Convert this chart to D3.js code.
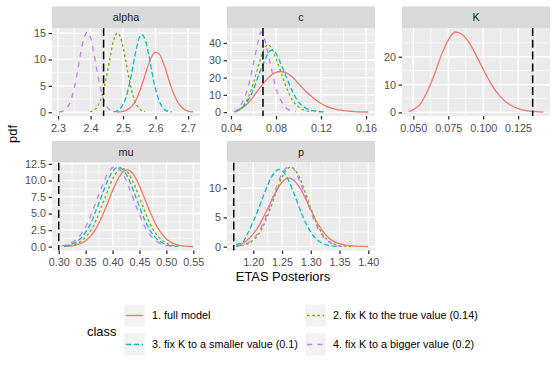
<!DOCTYPE html>
<html><head><meta charset="utf-8">
<script src="https://cdn.jsdelivr.net/npm/d3@7"></script>
<style>
body{margin:0;background:#fff}
svg{display:block}
text{font-family:"Liberation Sans",Arial,Helvetica,sans-serif}
</style>
</head><body>
<svg id="chart" width="555" height="370"></svg>
<script>
// ---------- data ----------
const panelNames = ["alpha", "c", "K", "mu", "p"];
const classNames = ["1. full model", "2. fix K to the true value (0.14)", "3. fix K to a smaller value (0.1)", "4. fix K to a bigger value (0.2)"];
const classColors = ["#F8766D", "#7CAE00", "#00BFC4", "#C77CFF"];
const classDash = [null, "2.6,2.6", "5.2,2.6", "5.2,5.2"];
const trueValues = [2.44, 0.0685, 0.1354, 0.30, 1.166];

const alphaXTicks = [2.3, 2.4, 2.5, 2.6, 2.7];
const alphaXLabels = ["2.3", "2.4", "2.5", "2.6", "2.7"];
const alphaYTicks = [0, 5, 10, 15];
const alphaYLabels = ["0", "5", "10", "15"];
const cXTicks = [0.04, 0.08, 0.12, 0.16];
const cXLabels = ["0.04", "0.08", "0.12", "0.16"];
const cYTicks = [0, 10, 20, 30, 40];
const cYLabels = ["0", "10", "20", "30", "40"];
const kXTicks = [0.05, 0.075, 0.1, 0.125];
const kXLabels = ["0.050", "0.075", "0.100", "0.125"];
const kYTicks = [0, 10, 20];
const kYLabels = ["0", "10", "20"];
const muXTicks = [0.30, 0.35, 0.40, 0.45, 0.50, 0.55];
const muXLabels = ["0.30", "0.35", "0.40", "0.45", "0.50", "0.55"];
const muYTicks = [0, 2.5, 5, 7.5, 10, 12.5];
const muYLabels = ["0.0", "2.5", "5.0", "7.5", "10.0", "12.5"];
const pXTicks = [1.20, 1.25, 1.30, 1.35, 1.40];
const pXLabels = ["1.20", "1.25", "1.30", "1.35", "1.40"];
const pYTicks = [0, 5, 10];
const pYLabels = ["0", "5", "10"];

// alpha posteriors [value, density]
const alphaFull = [[2.48,0.05],[2.49,0.07],[2.50,0.16],[2.51,0.36],[2.52,0.74],[2.53,1.37],[2.54,2.37],[2.55,3.8],[2.56,5.55],[2.57,7.5],[2.58,9.35],[2.59,10.75],[2.60,11.4],[2.61,11.1],[2.62,10.0],[2.63,8.3],[2.64,6.3],[2.65,4.4],[2.66,2.9],[2.67,1.73],[2.68,0.95],[2.69,0.49],[2.70,0.23],[2.71,0.1],[2.716,0.07]];
const alphaTrue = [[2.398,0.1],[2.41,0.39],[2.42,0.99],[2.43,2.18],[2.44,4.2],[2.45,7.1],[2.46,10.4],[2.47,13.4],[2.483,15.0],[2.49,14.5],[2.50,12.3],[2.51,9.1],[2.52,5.9],[2.53,3.3],[2.54,1.6],[2.55,0.69],[2.56,0.26],[2.568,0.12]];
const alphaSmall = [[2.47,0.07],[2.48,0.23],[2.49,0.62],[2.50,1.46],[2.51,3.0],[2.52,5.5],[2.53,8.6],[2.54,11.8],[2.55,14.1],[2.558,14.7],[2.57,13.3],[2.58,10.6],[2.59,7.2],[2.60,4.4],[2.61,2.3],[2.62,1.04],[2.63,0.41],[2.64,0.15],[2.65,0.05]];
const alphaBig = [[2.302,0.05],[2.31,0.13],[2.32,0.41],[2.33,1.06],[2.34,2.39],[2.35,4.66],[2.36,7.81],[2.37,11.3],[2.38,14.1],[2.39,15.2],[2.40,14.1],[2.41,11.3],[2.42,7.8],[2.43,4.7],[2.44,2.4],[2.45,1.06],[2.46,0.41]];

// c posteriors
const cFull = [[0.043,0.3],[0.05,2.5],[0.055,5],[0.06,9],[0.065,13.5],[0.07,17.5],[0.075,21],[0.08,23],[0.0844,23.5],[0.09,22.5],[0.095,20],[0.10,16.5],[0.105,13],[0.11,10],[0.115,7.3],[0.12,5],[0.125,3.4],[0.13,2.2],[0.14,0.9],[0.15,0.35],[0.162,0.1]];
const cTrue = [[0.044,0.2],[0.05,3],[0.055,8],[0.06,17],[0.065,28],[0.07,37],[0.0727,39],[0.075,38],[0.08,31],[0.085,22],[0.09,13],[0.095,6.5],[0.10,3],[0.105,1.2],[0.112,0.3]];
const cSmall = [[0.044,0.2],[0.05,2.5],[0.055,6.5],[0.06,13],[0.065,22],[0.07,30],[0.075,35.5],[0.0766,36],[0.08,34],[0.085,27],[0.09,19],[0.095,11.5],[0.10,6],[0.105,3],[0.11,1.3],[0.115,0.6],[0.1228,0.2]];
const cBig = [[0.0425,0.2],[0.045,1.0],[0.05,5.5],[0.055,14],[0.06,28],[0.065,43],[0.0665,46.3],[0.07,42],[0.075,28],[0.08,14],[0.085,6],[0.09,2],[0.095,0.6],[0.0975,0.3]];

// K posterior (full model only)
const kFull = [[0.0467,0.3],[0.05,1.0],[0.055,3],[0.06,7.5],[0.065,13.5],[0.07,20.5],[0.075,26],[0.08,28.9],[0.085,28],[0.09,25],[0.095,20.5],[0.10,15.5],[0.105,10.8],[0.11,7],[0.115,4.3],[0.12,2.5],[0.125,1.4],[0.13,0.75],[0.135,0.4],[0.14,0.2],[0.143,0.15]];

// mu posteriors
const muFull = [[0.31,0.03],[0.32,0.08],[0.33,0.2],[0.34,0.44],[0.35,0.9],[0.36,1.66],[0.37,2.84],[0.38,4.46],[0.39,6.4],[0.40,8.46],[0.41,10.2],[0.42,11.36],[0.427,11.6],[0.43,11.55],[0.44,10.8],[0.45,9.2],[0.46,7.2],[0.47,5.2],[0.48,3.4],[0.49,2.1],[0.50,1.15],[0.51,0.59],[0.52,0.27],[0.53,0.12],[0.54,0.05],[0.55,0.02]];
const muTrue = [[0.31,0.06],[0.32,0.14],[0.33,0.34],[0.34,0.73],[0.35,1.42],[0.36,2.5],[0.37,4.1],[0.38,6.1],[0.39,8.2],[0.40,10.2],[0.41,11.45],[0.418,11.8],[0.42,11.78],[0.43,11.05],[0.44,9.45],[0.45,7.4],[0.46,5.3],[0.47,3.4],[0.48,2.0],[0.49,1.1],[0.50,0.54],[0.51,0.24],[0.52,0.1],[0.53,0.04]];
const muSmall = [[0.31,0.11],[0.32,0.27],[0.33,0.6],[0.34,1.19],[0.35,2.2],[0.36,3.6],[0.37,5.6],[0.38,7.7],[0.39,9.8],[0.40,11.35],[0.411,12.0],[0.42,11.55],[0.43,10.2],[0.44,8.2],[0.45,6.0],[0.46,4.0],[0.47,2.4],[0.48,1.36],[0.49,0.69],[0.50,0.31],[0.51,0.11],[0.52,0.04]];
const muBig = [[0.305,0.12],[0.31,0.19],[0.32,0.44],[0.33,0.92],[0.34,1.74],[0.35,3.0],[0.36,4.8],[0.37,6.9],[0.38,9.05],[0.39,10.9],[0.405,12.1],[0.41,11.97],[0.42,10.9],[0.43,9.05],[0.44,6.9],[0.45,4.8],[0.46,3.0],[0.47,1.74],[0.48,0.92],[0.49,0.44],[0.50,0.19],[0.51,0.07]];

// p posteriors
const pFull = [[1.17,0.15],[1.18,0.45],[1.19,1.2],[1.20,2.2],[1.21,3.6],[1.22,5.5],[1.23,7.5],[1.24,9.5],[1.25,11.0],[1.262,11.7],[1.27,11.4],[1.28,10.2],[1.29,8.4],[1.30,6.3],[1.31,4.3],[1.32,2.8],[1.33,1.6],[1.34,0.9],[1.35,0.5],[1.36,0.28],[1.37,0.16],[1.38,0.09],[1.39,0.05],[1.40,0.03]];
const pTrue = [[1.17,0.06],[1.18,0.18],[1.19,0.48],[1.20,1.1],[1.21,2.25],[1.22,4.1],[1.23,6.6],[1.24,9.4],[1.25,11.9],[1.265,13.6],[1.27,13.4],[1.28,11.9],[1.29,9.4],[1.30,6.6],[1.31,4.1],[1.32,2.25],[1.33,1.1],[1.34,0.48],[1.35,0.18],[1.36,0.07],[1.37,0.03]];
const pSmall = [[1.17,0.3],[1.175,0.5],[1.18,0.6],[1.19,2.2],[1.20,4.3],[1.21,6.7],[1.22,9.3],[1.23,11.6],[1.245,13.2],[1.25,13.0],[1.26,11.6],[1.27,9.3],[1.28,6.7],[1.29,4.3],[1.30,2.5],[1.31,1.26],[1.32,0.58],[1.33,0.24],[1.34,0.09],[1.35,0.03]];
const pBig = [[1.17,0.08],[1.18,0.24],[1.19,0.6],[1.20,1.33],[1.21,2.6],[1.22,4.6],[1.23,7.3],[1.24,10.1],[1.25,12.5],[1.2626,13.7],[1.27,13.3],[1.28,11.4],[1.29,8.8],[1.30,6.0],[1.31,3.6],[1.32,1.9],[1.33,0.93],[1.34,0.39],[1.35,0.1],[1.36,0.04]];

// ---------- table built from the arrays ----------
const panels = [
  {name: panelNames[0], curves: [alphaFull, alphaTrue, alphaSmall, alphaBig], vline: trueValues[0], xt: alphaXTicks, xl: alphaXLabels, yt: alphaYTicks, yl: alphaYLabels},
  {name: panelNames[1], curves: [cFull, cTrue, cSmall, cBig], vline: trueValues[1], xt: cXTicks, xl: cXLabels, yt: cYTicks, yl: cYLabels},
  {name: panelNames[2], curves: [kFull, null, null, null], vline: trueValues[2], xt: kXTicks, xl: kXLabels, yt: kYTicks, yl: kYLabels},
  {name: panelNames[3], curves: [muFull, muTrue, muSmall, muBig], vline: trueValues[3], xt: muXTicks, xl: muXLabels, yt: muYTicks, yl: muYLabels},
  {name: panelNames[4], curves: [pFull, pTrue, pSmall, pBig], vline: trueValues[4], xt: pXTicks, xl: pXLabels, yt: pYTicks, yl: pYLabels}
];

// ---------- drawing ----------
const svg = d3.select("#chart");
svg.append("rect").attr("width", 555).attr("height", 370).attr("fill", "#fff");

const colX = [52, 227, 402];
const panelW = 148;
const stripTop = [6.5, 141];
const stripH = 21.5;
const panelH = 88;
const smallFont = 10.8;
const bigFont = 12.9;
const lineW = 1.31;

function minorBreaks(ticks, dom) {
  const step = ticks[1] - ticks[0];
  const ext = [ticks[0] - step, ...ticks, ticks[ticks.length - 1] + step];
  const out = [];
  for (let i = 0; i < ext.length - 1; i++) out.push((ext[i] + ext[i + 1]) / 2);
  return out.filter(v => v >= dom[0] && v <= dom[1]);
}

panels.forEach((P, i) => {
  const col = i % 3, row = Math.floor(i / 3);
  const x0 = colX[col];
  const y0 = stripTop[row] + stripH;
  const pts = P.curves.filter(Boolean).flat();
  const [xmin, xmax] = d3.extent(pts.map(d => d[0]).concat([P.vline]));
  const xr = xmax - xmin;
  const [ymin, ymax] = d3.extent(pts, d => d[1]);
  const yr = ymax - ymin;
  const x = d3.scaleLinear().domain([xmin - 0.05 * xr, xmax + 0.05 * xr]).range([0, panelW]);
  const y = d3.scaleLinear().domain([ymin - 0.05 * yr, ymax + 0.05 * yr]).range([panelH, 0]);

  // strip
  svg.append("rect").attr("x", x0).attr("y", stripTop[row]).attr("width", panelW).attr("height", stripH).attr("fill", "#D9D9D9");
  svg.append("text").attr("x", x0 + panelW / 2).attr("y", stripTop[row] + stripH / 2).attr("dy", "0.35em")
    .attr("text-anchor", "middle").attr("font-size", smallFont).attr("fill", "#1A1A1A").text(P.name);

  const g = svg.append("g").attr("transform", `translate(${x0},${y0})`);
  g.append("rect").attr("width", panelW).attr("height", panelH).attr("fill", "#EBEBEB");

  // grid
  const grid = g.append("g");
  minorBreaks(P.xt, x.domain()).forEach(v => grid.append("line").attr("x1", x(v)).attr("x2", x(v)).attr("y1", 0).attr("y2", panelH).attr("stroke", "#fff").attr("stroke-width", 0.65));
  minorBreaks(P.yt, y.domain()).forEach(v => grid.append("line").attr("y1", y(v)).attr("y2", y(v)).attr("x1", 0).attr("x2", panelW).attr("stroke", "#fff").attr("stroke-width", 0.65));
  P.xt.forEach(v => grid.append("line").attr("x1", x(v)).attr("x2", x(v)).attr("y1", 0).attr("y2", panelH).attr("stroke", "#fff").attr("stroke-width", lineW));
  P.yt.forEach(v => grid.append("line").attr("y1", y(v)).attr("y2", y(v)).attr("x1", 0).attr("x2", panelW).attr("stroke", "#fff").attr("stroke-width", lineW));

  // clip
  const cid = "clip" + i;
  g.append("clipPath").attr("id", cid).append("rect").attr("width", panelW).attr("height", panelH);
  const plot = g.append("g").attr("clip-path", `url(#${cid})`);

  const line = d3.line().x(d => x(d[0])).y(d => y(d[1])).curve(d3.curveMonotoneX);
  P.curves.forEach((c, k) => {
    if (!c) return;
    const p = plot.append("path").datum(c).attr("d", line).attr("fill", "none")
      .attr("stroke", classColors[k]).attr("stroke-width", lineW);
    if (classDash[k]) p.attr("stroke-dasharray", classDash[k]);
  });
  plot.append("line").attr("x1", x(P.vline)).attr("x2", x(P.vline)).attr("y1", 0).attr("y2", panelH)
    .attr("stroke", "#000").attr("stroke-width", 1.5).attr("stroke-dasharray", "8,3.8");

  // axes
  const xa = g.append("g").attr("transform", `translate(0,${panelH})`)
    .call(d3.axisBottom(x).tickValues(P.xt).tickFormat((d, j) => P.xl[j]).tickSize(3.4).tickPadding(4.6));
  const ya = g.append("g")
    .call(d3.axisLeft(y).tickValues(P.yt).tickFormat((d, j) => P.yl[j]).tickSize(3.4).tickPadding(2.7));
  [xa, ya].forEach(a => {
    a.select(".domain").remove();
    a.selectAll(".tick line").attr("stroke", "#333333").attr("stroke-width", lineW);
    a.selectAll(".tick text").attr("fill", "#4D4D4D").attr("font-size", smallFont)
      .attr("font-family", '"Liberation Sans",Arial,sans-serif');
  });
});

// axis titles
svg.append("text").attr("x", 283).attr("y", 276).attr("dy", "0.35em").attr("text-anchor", "middle")
  .attr("font-size", bigFont).attr("fill", "#000").text("ETAS Posteriors");
svg.append("text").attr("transform", "translate(12,134) rotate(-90)").attr("dy", "0.35em").attr("text-anchor", "middle")
  .attr("font-size", bigFont).attr("fill", "#000").text("pdf");

// legend
const leg = svg.append("g");
leg.append("text").attr("x", 87).attr("y", 331).attr("dy", "0.35em").attr("font-size", bigFont).attr("fill", "#000").text("class");
const keyX = [124.3, 305.3];
const keyY = [304.5, 333.5];
const keyW = 20.5, keyH = 22;
const order = [[0, 0, 0], [1, 1, 0], [2, 0, 1], [3, 1, 1]];
order.forEach(([k, c, r]) => {
  leg.append("rect").attr("x", keyX[c]).attr("y", keyY[r]).attr("width", keyW).attr("height", keyH).attr("fill", "#F2F2F2");
  const l = leg.append("line").attr("x1", keyX[c] + 1.7).attr("x2", keyX[c] + keyW - 1.7)
    .attr("y1", keyY[r] + keyH / 2).attr("y2", keyY[r] + keyH / 2)
    .attr("stroke", classColors[k]).attr("stroke-width", lineW);
  if (classDash[k]) l.attr("stroke-dasharray", classDash[k]);
  leg.append("text").attr("x", keyX[c] + keyW + 7.3).attr("y", keyY[r] + keyH / 2).attr("dy", "0.35em")
    .attr("font-size", smallFont).attr("fill", "#000").text(classNames[k]);
});
</script>
</body></html>
